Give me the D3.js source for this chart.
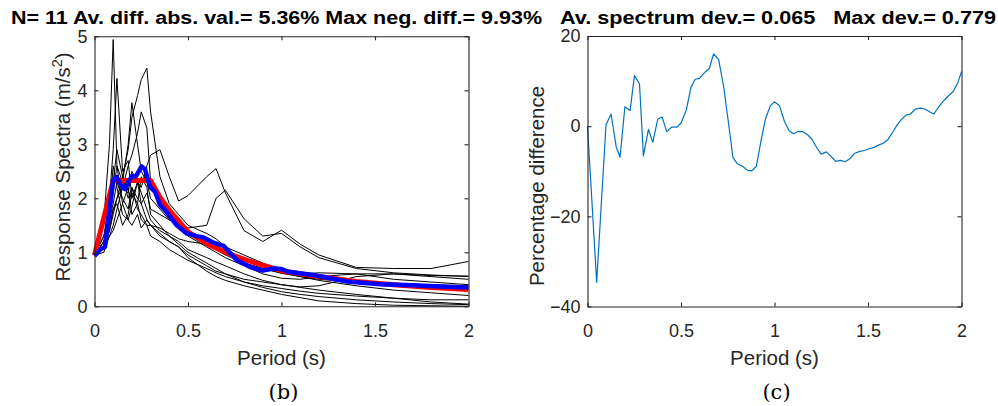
<!DOCTYPE html>
<html>
<head>
<meta charset="utf-8">
<script src="https://cdn.jsdelivr.net/npm/d3@7"></script>
<style>
    body { margin: 0; background: #fff; }
    svg { display: block; }
    text { font-family: "Liberation Sans", Arial, sans-serif; }
</style>
</head>
<body>
<div class="figure"></div>
<script>
/*****************  Data **********************/

// periods (s) at which the 11 records are sampled
var periods = [0, 0.05, 0.08, 0.1, 0.12, 0.15, 0.18, 0.2, 0.23, 0.25, 0.28, 0.3, 0.35, 0.4,
    0.45, 0.5, 0.6, 0.65, 0.7, 0.8, 0.9, 1.0, 1.1, 1.2, 1.4, 1.6, 1.8, 2.0];

var rec1 = [0.95, 1.6, 3.0, 4.94, 2.6, 1.9, 2.2, 1.7, 1.9, 1.6, 1.5, 1.3, 1.2, 1.05, 0.95, 0.85, 0.7, 0.62, 0.55, 0.45, 0.38, 0.33, 0.28, 0.24, 0.19, 0.15, 0.12, 0.12];
var rec2 = [0.95, 1.3, 2.0, 2.9, 4.22, 2.5, 2.7, 2.0, 2.3, 1.9, 1.6, 1.5, 1.3, 1.2, 1.1, 0.95, 0.75, 0.65, 0.6, 0.5, 0.45, 0.4, 0.35, 0.3, 0.22, 0.15, 0.08, 0.04];
var rec3 = [0.95, 1.1, 1.4, 1.8, 2.0, 2.4, 2.9, 3.5, 3.9, 4.2, 4.41, 3.6, 2.4, 1.9, 1.7, 1.5, 1.35, 1.25, 1.1, 0.95, 0.8, 0.65, 0.55, 0.48, 0.38, 0.3, 0.25, 0.2];
var rec4 = [0.95, 1.2, 1.6, 2.1, 2.6, 2.3, 3.0, 3.77, 3.0, 2.5, 2.3, 2.0, 1.8, 1.6, 1.5, 1.4, 1.2, 1.1, 1.0, 0.8, 0.7, 0.61, 0.55, 0.5, 0.45, 0.42, 0.4, 0.38];
var rec5 = [0.95, 1.0, 1.3, 1.5, 1.8, 2.2, 2.6, 2.8, 3.2, 3.6, 3.3, 2.3, 2.0, 1.8, 1.6, 1.3, 1.1, 1.0, 0.9, 0.75, 0.6, 0.52, 0.5, 0.55, 0.6, 0.6, 0.57, 0.56];
var rec6 = [0.95, 1.1, 1.4, 1.7, 2.0, 2.2, 2.1, 2.5, 2.3, 2.2, 2.6, 2.8, 2.9, 2.4, 1.95, 2.05, 2.4, 2.55, 2.1, 1.4, 1.2, 1.41, 1.15, 0.95, 0.72, 0.7, 0.7, 0.83];
var rec7 = [0.95, 1.2, 1.6, 1.9, 2.3, 2.0, 1.8, 2.2, 2.0, 1.9, 2.1, 1.8, 1.7, 1.6, 1.55, 1.45, 1.5, 2.0, 2.15, 1.62, 1.3, 1.35, 1.1, 0.9, 0.7, 0.62, 0.58, 0.55];
var rec8 = [0.95, 1.7, 2.0, 2.3, 2.9, 2.4, 2.0, 2.2, 1.8, 1.7, 1.5, 1.5, 1.45, 1.35, 1.25, 1.2, 1.15, 1.05, 0.95, 0.8, 0.7, 0.62, 0.6, 0.62, 0.6, 0.5, 0.45, 0.4];
var rec9 = [0.95, 1.1, 1.3, 1.4, 1.6, 1.9, 1.6, 1.85, 2.3, 2.1, 1.8, 1.6, 1.4, 1.3, 1.2, 1.05, 0.9, 0.82, 0.75, 0.6, 0.48, 0.4, 0.36, 0.38, 0.55, 0.6, 0.55, 0.5];
var rec10 = [0.95, 1.2, 1.5, 1.8, 1.9, 1.5, 1.7, 2.1, 1.9, 2.4, 2.2, 1.7, 1.5, 1.3, 1.15, 1.0, 0.8, 0.7, 0.6, 0.45, 0.35, 0.27, 0.22, 0.18, 0.12, 0.08, 0.05, 0.03];
var rec11 = [0.95, 1.3, 1.7, 2.6, 2.2, 1.7, 1.6, 1.5, 1.7, 1.45, 1.6, 1.5, 1.35, 1.2, 1.1, 0.9, 0.65, 0.55, 0.48, 0.38, 0.3, 0.22, 0.16, 0.1, 0.05, 0.02, 0.01, 0.0];
var records = [rec1, rec2, rec3, rec4, rec5, rec6, rec7, rec8, rec9, rec10, rec11];

// target (code) spectrum, red
var targetT = [0, 0.1, 0.3, 0.35, 0.4, 0.45, 0.5, 0.6, 0.7, 0.8, 0.9, 1.0, 1.2, 1.4, 1.6, 1.8, 2.0];
var targetSa = [0.95, 2.33, 2.33, 2.02, 1.78, 1.58, 1.38, 1.16, 1.0, 0.87, 0.76, 0.66, 0.55, 0.46, 0.4, 0.35, 0.31];

// mean of the 11 records, blue
var meanT = [0, 0.03, 0.056, 0.1, 0.119, 0.14, 0.163, 0.18, 0.2, 0.222, 0.252, 0.27, 0.297, 0.324, 0.35,
    0.377, 0.44, 0.493, 0.546, 0.58, 0.635, 0.69, 0.76, 0.83, 0.9, 0.956, 1.0, 1.036, 1.17, 1.35, 1.53,
    1.7, 1.88, 2.0];
var meanSa = [0.93, 1.05, 1.1, 2.34, 2.39, 2.25, 2.17, 2.3, 2.41, 2.41, 2.59, 2.54, 2.21, 2.12, 1.88,
    1.78, 1.5, 1.35, 1.3, 1.28, 1.18, 1.12, 0.86, 0.73, 0.66, 0.7, 0.69, 0.64, 0.58, 0.46, 0.41,
    0.39, 0.36, 0.35];

// percentage difference between mean and target
var diffT = [0, 0.049, 0.099, 0.126, 0.153, 0.174, 0.2, 0.228, 0.251, 0.278, 0.299, 0.326, 0.349, 0.376,
    0.399, 0.424, 0.451, 0.478, 0.5, 0.528, 0.553, 0.576, 0.599, 0.626, 0.652, 0.674, 0.701, 0.728,
    0.754, 0.778, 0.803, 0.829, 0.856, 0.879, 0.903, 0.929, 0.952, 0.977, 1.0, 1.027, 1.052, 1.078,
    1.102, 1.126, 1.15, 1.177, 1.2, 1.228, 1.25, 1.277, 1.303, 1.327, 1.353, 1.379, 1.406, 1.429,
    1.456, 1.481, 1.506, 1.531, 1.556, 1.581, 1.606, 1.631, 1.656, 1.681, 1.706, 1.727, 1.754, 1.781,
    1.804, 1.829, 1.852, 1.879, 1.906, 1.929, 1.956, 1.981, 2.0];
var diffPct = [0, -34.6, 0.3, 2.7, -4.5, -6.9, 4.3, 3.5, 11.2, 9.4, -6.6, -0.7, -3.6, 1.6,
    2.0, -1.2, -0.2, -0.2, 0.7, 3.5, 8.6, 10.4, 10.6, 11.9, 12.8, 16.0, 14.8, 8.8,
    0.7, -7.0, -8.4, -8.9, -9.8, -9.9, -8.9, -3.0, 1.6, 4.5, 5.4, 4.5, 1.2, -1.0,
    -1.7, -1.2, -1.2, -1.9, -2.9, -4.9, -6.2, -5.7, -6.7, -7.8, -7.6, -7.9, -7.1, -6.0,
    -5.6, -5.4, -5.0, -4.7, -4.2, -3.8, -3.0, -1.4, 0.3, 1.6, 2.5, 2.7, 3.8, 4.0,
    3.8, 3.2, 2.7, 4.3, 5.7, 6.7, 7.7, 9.7, 12.1];

var periodTicks = [0, 0.5, 1, 1.5, 2];
var spectraTicks = [0, 1, 2, 3, 4, 5];
var diffTicks = [-40, -20, 0, 20];

var leftTitle = "N= 11 Av. diff. abs. val.= 5.36% Max neg. diff.= 9.93%";
var rightTitle = "Av. spectrum dev.= 0.065   Max dev.= 0.779";

/*****************  Layout **********************/

var width = 998;
var height = 406;
var axisColor = "#262626";

var svg = d3.select(".figure").append("svg")
    .attr("width", width)
    .attr("height", height);

function pairs(xs, ys) {
    return xs.map(function (x, i) { return [x, ys[i]]; });
}

function drawAxes(g, x, y, yTicks, xTitle, yTitle, yTitleX, yTitleY, label) {
    var x0 = x.range()[0], x1 = x.range()[1];
    var y0 = y.range()[0], y1 = y.range()[1];

    // inward ticks on all four sides, box on
    g.append("g")
        .attr("transform", "translate(0," + y0 + ")")
        .call(d3.axisBottom(x).tickValues(periodTicks).tickSize(-4).tickSizeOuter(0).tickPadding(18)
            .tickFormat(d3.format("")));
    g.append("g")
        .attr("transform", "translate(0," + y1 + ")")
        .call(d3.axisTop(x).tickValues(periodTicks).tickSize(-4).tickSizeOuter(0).tickFormat(""));
    g.append("g")
        .attr("transform", "translate(" + x0 + ",0)")
        .call(d3.axisLeft(y).tickValues(yTicks).tickSize(-4).tickSizeOuter(0).tickPadding(7)
            .tickFormat(d3.format("")));
    g.append("g")
        .attr("transform", "translate(" + x1 + ",0)")
        .call(d3.axisRight(y).tickValues(yTicks).tickSize(-4).tickSizeOuter(0).tickFormat(""));

    g.selectAll(".domain, .tick line")
        .attr("stroke", axisColor)
        .attr("stroke-width", 1.1);
    g.selectAll(".tick text")
        .attr("fill", axisColor)
        .style("font-size", "18px")
        .style("font-family", "Liberation Sans, Arial, sans-serif");

    g.append("text")
        .attr("x", (x0 + x1) / 2)
        .attr("y", 365)
        .attr("text-anchor", "middle")
        .attr("fill", axisColor)
        .style("font-size", "20.5px")
        .text(xTitle);

    var yt = g.append("text")
        .attr("transform", "translate(" + yTitleX + "," + yTitleY + ") rotate(-90)")
        .attr("text-anchor", "middle")
        .attr("fill", axisColor)
        .style("font-size", "20.5px");
    yTitle(yt);

    g.append("text")
        .attr("x", (x0 + x1) / 2 + 2)
        .attr("y", 399)
        .attr("text-anchor", "middle")
        .attr("fill", "#000")
        .style("font-family", "DejaVu Serif, Liberation Serif, serif")
        .style("font-size", "21px")
        .text(label);
}

/*****************  Left panel: response spectra **********************/

var xL = d3.scaleLinear().domain([0, 2]).range([94.5, 468.5]);
var yL = d3.scaleLinear().domain([0, 5]).range([306.3, 36.3]);
var left = svg.append("g");

var lineL = d3.line()
    .x(function (d) { return xL(d[0]); })
    .y(function (d) { return yL(d[1]); });

left.selectAll(".record")
    .data(records)
    .enter()
    .append("path")
    .attr("class", "record")
    .attr("d", function (d) { return lineL(pairs(periods, d)); })
    .attr("fill", "none")
    .attr("stroke", "#000")
    .attr("stroke-width", 1)
    .attr("stroke-linejoin", "round");

left.append("path")
    .attr("d", lineL(pairs(targetT, targetSa)))
    .attr("fill", "none")
    .attr("stroke", "#ff0000")
    .attr("stroke-width", 5)
    .attr("stroke-linejoin", "round");

left.append("path")
    .attr("d", lineL(pairs(meanT, meanSa)))
    .attr("fill", "none")
    .attr("stroke", "#0000ff")
    .attr("stroke-width", 4.5)
    .attr("stroke-linejoin", "round");

drawAxes(left, xL, yL, spectraTicks, "Period (s)", function (t) {
    t.append("tspan").text("Response Spectra (m/s");
    t.append("tspan").attr("dy", -8).style("font-size", "14.5px").text("2");
    t.append("tspan").attr("dy", 8).text(")");
}, 70, 167, "(b)");

/*****************  Right panel: percentage difference **********************/

var xR = d3.scaleLinear().domain([0, 2]).range([587.5, 961.5]);
var yR = d3.scaleLinear().domain([-40, 20]).range([306.5, 36]);
var right = svg.append("g");

var lineR = d3.line()
    .x(function (d) { return xR(d[0]); })
    .y(function (d) { return yR(d[1]); });

right.append("path")
    .attr("d", lineR(pairs(diffT, diffPct)))
    .attr("fill", "none")
    .attr("stroke", "#0072bd")
    .attr("stroke-width", 1.2)
    .attr("stroke-linejoin", "round");

drawAxes(right, xR, yR, diffTicks, "Period (s)", function (t) {
    t.text("Percentage difference");
}, 544, 186, "(c)");

/*****************  Titles **********************/

svg.append("text")
    .attr("x", 276.5)
    .attr("y", 23.5)
    .attr("text-anchor", "middle")
    .attr("textLength", 531)
    .attr("lengthAdjust", "spacingAndGlyphs")
    .style("font-weight", "bold")
    .style("font-size", "18px")
    .text(leftTitle);

svg.append("text")
    .attr("x", 778)
    .attr("y", 23.5)
    .attr("text-anchor", "middle")
    .attr("textLength", 436)
    .attr("lengthAdjust", "spacingAndGlyphs")
    .style("font-weight", "bold")
    .style("font-size", "18px")
    .style("white-space", "pre")
    .text(rightTitle);
</script>
</body>
</html>
